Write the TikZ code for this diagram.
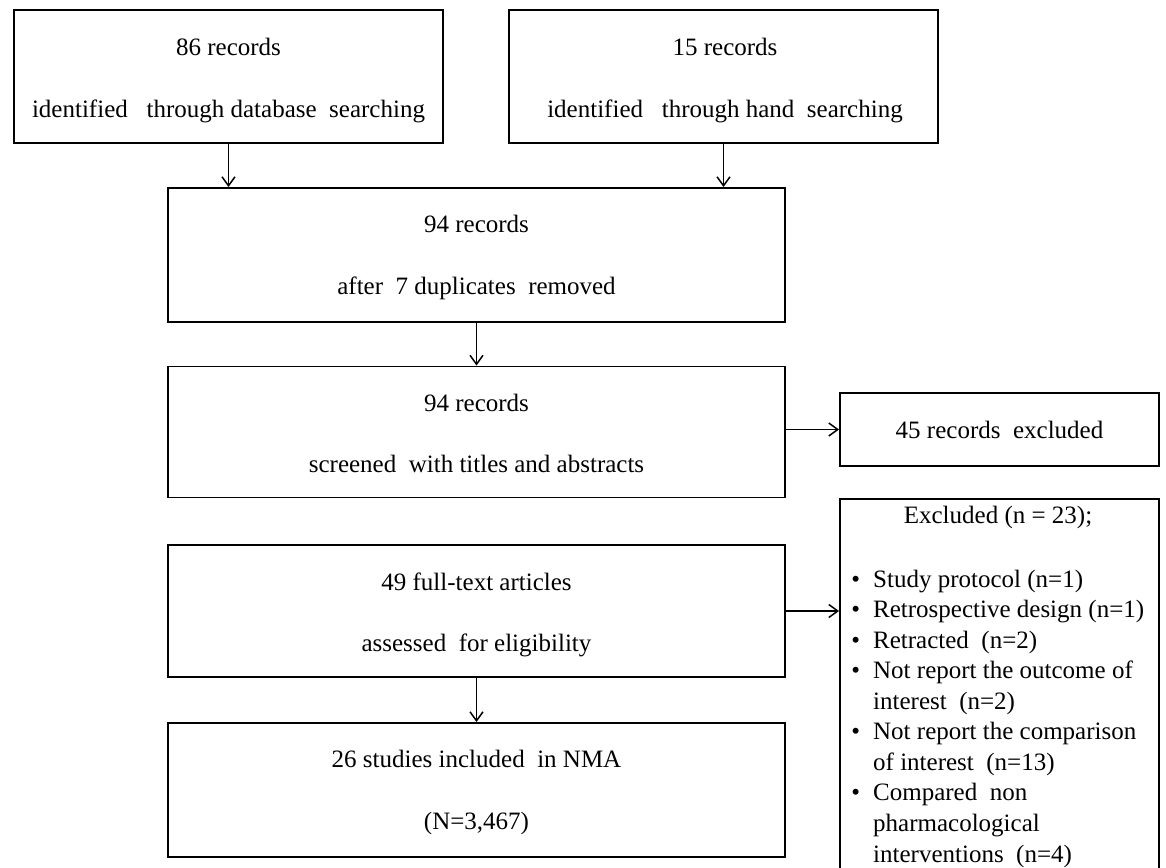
\documentclass[tikz,border=0pt]{standalone}
\usepackage{fontspec}
\setmainfont{Liberation Serif}
\usetikzlibrary{arrows.meta,calc}
\newcommand\bulletmark{\leavevmode\llap{\textbullet\hspace{13pt}}}
\begin{document}
\begin{tikzpicture}[x=1pt,y=-1pt,
  box/.style={draw=black,line width=1.9pt,inner sep=0pt},
  arr/.style={line width=1.5pt,-{Straight Barb[length=9pt,width=13pt,line width=1.5pt]}},
  txt/.style={font=\fontsize{25}{30}\selectfont,inner sep=0pt,anchor=base}]
\useasboundingbox (0,0) rectangle (1166,867);
\clip (0,0) rectangle (1166,867);
\fill[white] (0,0) rectangle (1166,867);

% boxes
\node[box,minimum width=429pt,minimum height=133pt] (b1) at (228.5,76.5) {};
\node[box,minimum width=429pt,minimum height=133pt] (b2) at (723.5,76.5) {};
\node[box,minimum width=617pt,minimum height=134pt] (b3) at (476.5,255) {};
\node[box,minimum width=617pt,minimum height=131pt] (b4) at (476.5,432) {};
\node[box,minimum width=617pt,minimum height=132pt] (b5) at (476.5,611) {};
\node[box,minimum width=617pt,minimum height=134pt] (b6) at (476.5,790) {};
\node[box,minimum width=319pt,minimum height=73pt] (e1) at (999.5,429.5) {};
\node[box,minimum width=319pt,minimum height=400pt] (e2) at (999.5,699) {};

% texts
\node[txt] (t1a) at ($(b1.north)+(0,46)$) {86 records};
\node[txt] (t1b) at ($(b1.north)+(0,108)$) {identified\ \ \ through database\ \ searching};
\node[txt] (t2a) at ($(b2.north)+(1.5,46)$) {15 records};
\node[txt] (t2b) at ($(b2.north)+(1.5,108)$) {identified\ \ \ through hand\ \ searching};
\node[txt] (t3a) at ($(b3.north)+(0,45.5)$) {94 records};
\node[txt] (t3b) at ($(b3.north)+(0,107)$) {after\ \ 7 duplicates\ \ removed};
\node[txt] (t4a) at ($(b4.north)+(0,45.5)$) {94 records};
\node[txt] (t4b) at ($(b4.north)+(0,106.5)$) {screened\ \ with titles and abstracts};
\node[txt] (t5a) at ($(b5.north)+(0,46)$) {49 full-text articles};
\node[txt] (t5b) at ($(b5.north)+(0,107)$) {assessed\ \ for eligibility};
\node[txt] (t6a) at ($(b6.north)+(0,45.5)$) {26 studies included\ \ in NMA};
\node[txt] (t6b) at ($(b6.north)+(0,107)$) {(N=3,467)};
\node[txt,anchor=center] (te1) at (e1.center) {45 records\ \ excluded};
\node[txt] (te2) at (998,523) {Excluded (n = 23);};
\node[anchor=base west,inner sep=0pt] (te3) at (873,587) {\parbox[t]{300pt}{\fontsize{25}{30.56}\selectfont\raggedright
\bulletmark Study protocol (n=1)\\
\bulletmark Retrospective design (n=1)\\
\bulletmark Retracted\ \ (n=2)\\
\bulletmark Not report the outcome of\\
interest\ \ (n=2)\\
\bulletmark Not report the comparison\\
of interest\ \ (n=13)\\
\bulletmark Compared\ \ non\\
pharmacological\\
interventions\ \ (n=4)}};

% connectors
\draw[arr] (b1.south) -- (b1.south |- b3.north);
\draw[arr] (b2.south) -- (b2.south |- b3.north);
\draw[arr] (b3.south) -- (b4.north);
\draw[arr] (b4.east |- e1.west) -- (e1.west);
\draw[arr] (b5.south) -- (b6.north);
\draw[arr] (b5.east) -- (b5.east -| e2.west);
\end{tikzpicture}
\end{document}
